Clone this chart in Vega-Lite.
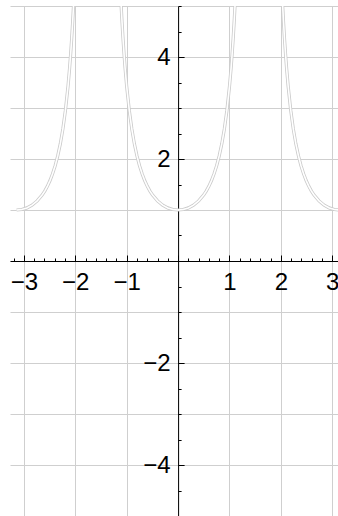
{
  "$schema": "https://vega.github.io/schema/vega-lite/v6.json",
  "width": 328,
  "height": 510,
  "autosize": "none",
  "padding": {"left": 10, "top": 6, "right": 0, "bottom": 0},
  "background": "white",
  "config": {
    "view": {"stroke": null}
  },
  "datasets": {
    "curve": [
      {"seg": "a", "x": -3.14159, "y": 1},
      {"seg": "a", "x": -3.04159, "y": 1.01003},
      {"seg": "a", "x": -2.94159, "y": 1.04109},
      {"seg": "a", "x": -2.84159, "y": 1.09569},
      {"seg": "a", "x": -2.74159, "y": 1.17875},
      {"seg": "a", "x": -2.64159, "y": 1.29845},
      {"seg": "a", "x": -2.59159, "y": 1.3759},
      {"seg": "a", "x": -2.54159, "y": 1.46804},
      {"seg": "a", "x": -2.49159, "y": 1.57791},
      {"seg": "a", "x": -2.44159, "y": 1.70945},
      {"seg": "a", "x": -2.39159, "y": 1.86787},
      {"seg": "a", "x": -2.34159, "y": 2.06015},
      {"seg": "a", "x": -2.29159, "y": 2.29579},
      {"seg": "a", "x": -2.24159, "y": 2.588},
      {"seg": "a", "x": -2.19159, "y": 2.95547},
      {"seg": "a", "x": -2.14159, "y": 3.42552},
      {"seg": "a", "x": -2.11159, "y": 3.77303},
      {"seg": "a", "x": -2.09159, "y": 4.03914},
      {"seg": "a", "x": -2.07159, "y": 4.33803},
      {"seg": "a", "x": -2.05159, "y": 4.67526},
      {"seg": "a", "x": -2.03449, "y": 5},

      {"seg": "b", "x": -1.1071, "y": 5},
      {"seg": "b", "x": -1.09, "y": 4.67526},
      {"seg": "b", "x": -1.07, "y": 4.33803},
      {"seg": "b", "x": -1.05, "y": 4.03914},
      {"seg": "b", "x": -1.03, "y": 3.77303},
      {"seg": "b", "x": -1.0, "y": 3.42552},
      {"seg": "b", "x": -0.95, "y": 2.95547},
      {"seg": "b", "x": -0.9, "y": 2.588},
      {"seg": "b", "x": -0.85, "y": 2.29579},
      {"seg": "b", "x": -0.8, "y": 2.06015},
      {"seg": "b", "x": -0.75, "y": 1.86787},
      {"seg": "b", "x": -0.7, "y": 1.70945},
      {"seg": "b", "x": -0.65, "y": 1.57791},
      {"seg": "b", "x": -0.6, "y": 1.46804},
      {"seg": "b", "x": -0.55, "y": 1.3759},
      {"seg": "b", "x": -0.5, "y": 1.29845},
      {"seg": "b", "x": -0.4, "y": 1.17875},
      {"seg": "b", "x": -0.3, "y": 1.09569},
      {"seg": "b", "x": -0.2, "y": 1.04109},
      {"seg": "b", "x": -0.1, "y": 1.01003},
      {"seg": "b", "x": 0, "y": 1},
      {"seg": "b", "x": 0.1, "y": 1.01003},
      {"seg": "b", "x": 0.2, "y": 1.04109},
      {"seg": "b", "x": 0.3, "y": 1.09569},
      {"seg": "b", "x": 0.4, "y": 1.17875},
      {"seg": "b", "x": 0.5, "y": 1.29845},
      {"seg": "b", "x": 0.55, "y": 1.3759},
      {"seg": "b", "x": 0.6, "y": 1.46804},
      {"seg": "b", "x": 0.65, "y": 1.57791},
      {"seg": "b", "x": 0.7, "y": 1.70945},
      {"seg": "b", "x": 0.75, "y": 1.86787},
      {"seg": "b", "x": 0.8, "y": 2.06015},
      {"seg": "b", "x": 0.85, "y": 2.29579},
      {"seg": "b", "x": 0.9, "y": 2.588},
      {"seg": "b", "x": 0.95, "y": 2.95547},
      {"seg": "b", "x": 1.0, "y": 3.42552},
      {"seg": "b", "x": 1.03, "y": 3.77303},
      {"seg": "b", "x": 1.05, "y": 4.03914},
      {"seg": "b", "x": 1.07, "y": 4.33803},
      {"seg": "b", "x": 1.09, "y": 4.67526},
      {"seg": "b", "x": 1.1071, "y": 5},

      {"seg": "c", "x": 2.03449, "y": 5},
      {"seg": "c", "x": 2.05159, "y": 4.67526},
      {"seg": "c", "x": 2.07159, "y": 4.33803},
      {"seg": "c", "x": 2.09159, "y": 4.03914},
      {"seg": "c", "x": 2.11159, "y": 3.77303},
      {"seg": "c", "x": 2.14159, "y": 3.42552},
      {"seg": "c", "x": 2.19159, "y": 2.95547},
      {"seg": "c", "x": 2.24159, "y": 2.588},
      {"seg": "c", "x": 2.29159, "y": 2.29579},
      {"seg": "c", "x": 2.34159, "y": 2.06015},
      {"seg": "c", "x": 2.39159, "y": 1.86787},
      {"seg": "c", "x": 2.44159, "y": 1.70945},
      {"seg": "c", "x": 2.49159, "y": 1.57791},
      {"seg": "c", "x": 2.54159, "y": 1.46804},
      {"seg": "c", "x": 2.59159, "y": 1.3759},
      {"seg": "c", "x": 2.64159, "y": 1.29845},
      {"seg": "c", "x": 2.74159, "y": 1.17875},
      {"seg": "c", "x": 2.84159, "y": 1.09569},
      {"seg": "c", "x": 2.94159, "y": 1.04109},
      {"seg": "c", "x": 3.04159, "y": 1.01003},
      {"seg": "c", "x": 3.14159, "y": 1}
    ]
  },
  "data": {"name": "curve"},
  "encoding": {
    "x": {
      "field": "x",
      "type": "quantitative",
      "scale": {"domain": [-3.27, 3.111], "nice": false, "zero": false},
      "axis": {
        "title": null,
        "orient": "bottom",
        "offset": -255,
        "values": [-3.2, -3, -2.8, -2.6, -2.4, -2.2, -2, -1.8, -1.6, -1.4, -1.2, -1, -0.8, -0.6, -0.4, -0.2, 0, 0.2, 0.4, 0.6, 0.8, 1, 1.2, 1.4, 1.6, 1.8, 2, 2.2, 2.4, 2.6, 2.8, 3],
        "domainColor": "black",
        "domainWidth": 1,
        "tickColor": "black",
        "tickWidth": 1,
        "tickSize": {"condition": {"test": "datum.value % 1 === 0", "value": -6}, "value": -3},
        "labelExpr": "datum.value === 0 || datum.value % 1 !== 0 ? '' : format(datum.value, 'd')",
        "labelFont": "Liberation Sans",
        "labelFontSize": 24,
        "labelColor": "black",
        "labelBaseline": "top",
        "labelAlign": "center",
        "labelPadding": 15,
        "labelFlush": false,
        "labelOverlap": false,
        "grid": true,
        "gridColor": "#cfcfcf",
        "gridWidth": 1,
        "gridOpacity": {"condition": {"test": "datum.value % 1 !== 0", "value": 0}, "value": 1}
      }
    },
    "y": {
      "field": "y",
      "type": "quantitative",
      "scale": {"domain": [-5, 5], "nice": false, "zero": false},
      "axis": {
        "title": null,
        "orient": "left",
        "offset": -168.1,
        "values": [-5, -4.5, -4, -3.5, -3, -2.5, -2, -1.5, -1, -0.5, 0, 0.5, 1, 1.5, 2, 2.5, 3, 3.5, 4, 4.5, 5],
        "domainColor": "black",
        "domainWidth": 1,
        "tickColor": "black",
        "tickWidth": 1,
        "tickSize": {"condition": {"test": "datum.value % 2 === 0", "value": -6}, "value": -3},
        "labelExpr": "datum.value === 0 || datum.value % 2 !== 0 ? '' : format(datum.value, 'd')",
        "labelFont": "Liberation Sans",
        "labelFontSize": 24,
        "labelColor": "black",
        "labelBaseline": "middle",
        "labelAlign": "right",
        "labelPadding": 14,
        "labelFlush": false,
        "labelOverlap": false,
        "grid": true,
        "gridColor": "#cfcfcf",
        "gridWidth": 1,
        "gridOpacity": {"condition": {"test": "datum.value % 1 !== 0", "value": 0}, "value": 1}
      }
    },
    "detail": {"field": "seg", "type": "nominal"}
  },
  "layer": [
    {"mark": {"type": "line", "color": "#cacaca", "strokeWidth": 3.2, "clip": true}},
    {"mark": {"type": "line", "color": "white", "strokeWidth": 1.6, "clip": true}}
  ]
}
